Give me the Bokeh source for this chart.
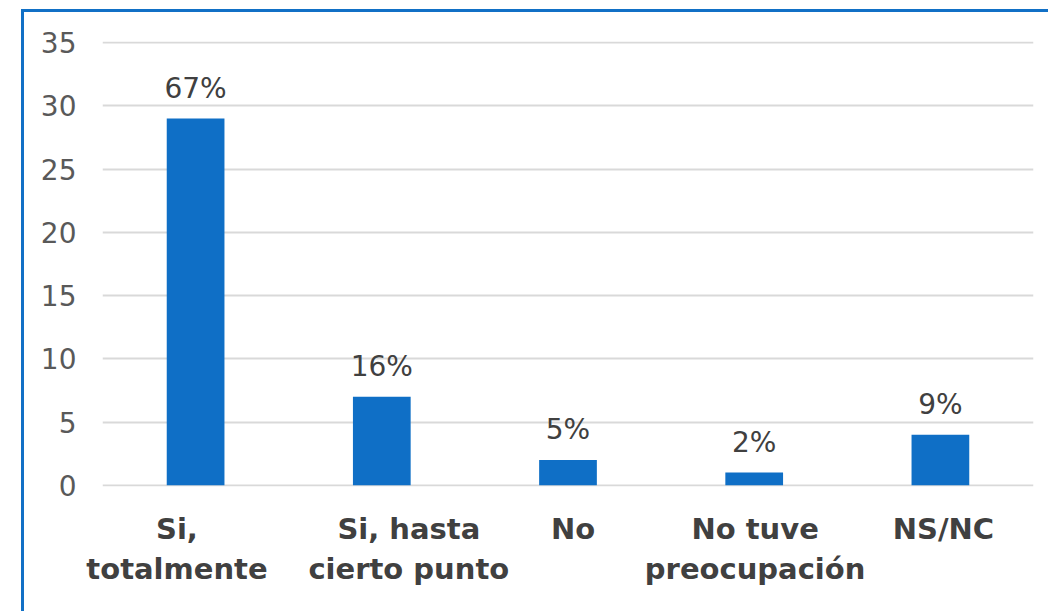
from bokeh.plotting import figure
from bokeh.models import (ColumnDataSource, Range1d, LabelSet, FixedTicker,
                          CustomJSTickFormatter)
from bokeh.core.properties import value
from bokeh.embed import file_html
from bokeh.resources import INLINE

# Survey answers and number of respondents per answer
categories = ["Si,\ntotalmente", "Si, hasta\ncierto punto", "No",
              "No tuve\npreocupación", "NS/NC"]
counts = [29, 7, 2, 1, 4]
y_ticks = [0, 5, 10, 15, 20, 25, 30, 35]

total = sum(counts)
pct_labels = [f"{round(c / total * 100)}%" for c in counts]

BLUE = "#0F6FC6"
DARK = "#404040"

# horizontal nudge of each category name, as a fraction of one category slot,
# so the wrapped names do not run into each other
label_nudge = [-0.10, 0.145, 0.027, 0.005, 0.016]

n = len(categories)
slot_centers = [i + 0.5 for i in range(n)]   # one unit-wide slot per category

source = ColumnDataSource(data=dict(x=slot_centers, count=counts, label=pct_labels))

p = figure(
    x_range=Range1d(0, n),
    y_range=Range1d(-0.1, 35.1),
    width=1027, height=602,
    output_backend="svg", toolbar_location=None,
    min_border_left=78, min_border_right=18,
    min_border_top=29, min_border_bottom=128,
    margin=(9, 0, 0, 21),
    styles={"border-top": "3px solid #1170C6",
            "border-left": "3px solid #1170C6"},
)
p.outline_line_color = None
p.background_fill_color = "white"
p.border_fill_color = "white"

p.vbar(x="x", top="count", width=0.31, source=source,
       fill_color=BLUE, line_color=None)

# percentage labels above the bars
pct = LabelSet(x="x", y="count", text="label", source=source,
               text_align="center", text_baseline="alphabetic", y_offset=21,
               text_font=value("DejaVu Sans"), text_font_size="28px",
               text_color=DARK)
p.add_layout(pct)

# grid
p.xgrid.grid_line_color = None
p.ygrid.grid_line_color = "#D9D9D9"
p.ygrid.grid_line_width = 2

# y axis
p.yaxis.ticker = FixedTicker(ticks=y_ticks)
p.yaxis.axis_line_color = None
p.yaxis.major_tick_line_color = None
p.yaxis.minor_tick_line_color = None
p.yaxis.major_tick_out = 0
p.yaxis.major_label_standoff = 26
p.yaxis.major_label_text_font = "DejaVu Sans"
p.yaxis.major_label_text_font_size = "28px"
p.yaxis.major_label_text_color = "#595959"

# x axis: category names, one per slot
p.xaxis.ticker = FixedTicker(ticks=[c + d for c, d in zip(slot_centers, label_nudge)],
                             minor_ticks=[])
p.xaxis.formatter = CustomJSTickFormatter(args=dict(names=categories),
                                          code="return names[index];")
p.xaxis.axis_line_color = None
p.xaxis.major_tick_line_color = None
p.xaxis.minor_tick_line_color = None
p.xaxis.major_tick_out = 0
p.xaxis.major_label_standoff = 25
p.xaxis.major_label_text_font = "DejaVu Sans"
p.xaxis.major_label_text_font_style = "bold"
p.xaxis.major_label_text_font_size = "29px"
p.xaxis.major_label_text_color = DARK
p.xaxis.major_label_text_line_height = 1.2

open("out.html", "w").write(file_html(p, INLINE))
